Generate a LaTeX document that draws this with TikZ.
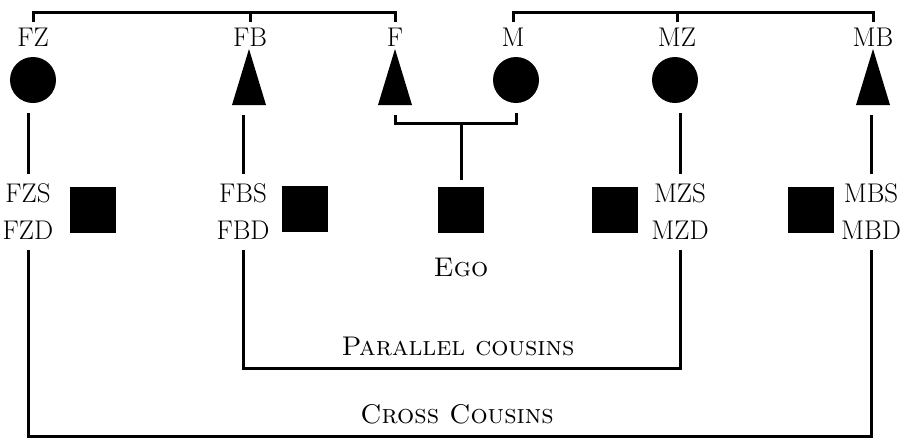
\documentclass[tikz,border=0pt]{standalone}
\usetikzlibrary{positioning,shapes.geometric}

\tikzset{
    kin/.style={line width=3pt},
    female/.style={circle,fill,minimum size=46pt,inner sep=0pt,outer sep=10pt},
    male/.style={isosceles triangle,shape border rotate=90,isosceles triangle stretches,
        fill,minimum width=34pt,minimum height=56pt,inner sep=0pt,outer sep=10pt,anchor=south},
    person/.style={rectangle,fill,minimum size=46pt,inner sep=0pt,outer sep=7pt},
    tag/.style={inner sep=0pt,outer sep=6pt},
    kids/.style={align=center,inner sep=0pt,outer sep=10pt}
}

\begin{document}
\begin{tikzpicture} [x=1pt,y=-1pt,every node/.style={font=\fontsize{27}{37}\selectfont}]
    \useasboundingbox (0,0) rectangle (911,440);

    % parents' generation
    \node[female] (fz) at (33,80) {};
    \node[male] (fb) at (249,115) {};
    \node[male] (f) at (395,115) {};
    \node[female] (m) at (516,80) {};
    \node[female] (mz) at (675,80) {};
    \node[male] (mb) at (873,115) {};

    \node[tag] (fzlab) at (33,37) {FZ};
    \node[tag] (fblab) at (250,37) {FB};
    \node[tag] (flab) at (395,37) {F};
    \node[tag] (mlab) at (513,37) {M};
    \node[tag] (mzlab) at (677,37) {MZ};
    \node[tag] (mblab) at (873,37) {MB};

    % cousins
    \node[kids] (fzkids) at (28,212) {FZS\\FZD};
    \node[person] (fzsq) at (93,210) {};
    \node[kids] (fbkids) at (243,212) {FBS\\FBD};
    \node[person] (fbsq) at (305,209) {};
    \node[person] (ego) at (461,210) {};
    \node[tag,below=12pt of ego] (egolab) {\textsc{Ego}};
    \node[person] (mzsq) at (615,210) {};
    \node[kids] (mzkids) at (680,212) {MZS\\MZD};
    \node[person] (mbsq) at (811,210) {};
    \node[kids] (mbkids) at (871,212) {MBS\\MBD};

    \node[tag] (parlab) at (458,346) {\textsc{Parallel cousins}};
    \node[tag] (crosslab) at (457,414) {\textsc{Cross Cousins}};

    % sibling brackets
    \draw[kin] (fzlab.north) -- (fzlab.north |- 0,12) -- (flab.north |- 0,12) -- (flab.north);
    \draw[kin] (fblab.north) -- (fblab.north |- 0,12);
    \draw[kin] (mlab.north) -- (mlab.north |- 0,12) -- (mblab.north |- 0,12) -- (mblab.north);
    \draw[kin] (mzlab.north) -- (mzlab.north |- 0,12);

    % descent
    \draw[kin] (f.south) -- (f.south |- 0,123) -- (m.south |- 0,123) -- (m.south);
    \draw[kin] (ego.north |- 0,123) -- (ego.north);
    \draw[kin] (fzkids.north |- fz.south) -- (fzkids.north);
    \draw[kin] (fbkids.north |- fb.south) -- (fbkids.north);
    \draw[kin] (mzkids.north |- mz.south) -- (mzkids.north);
    \draw[kin] (mbkids.north |- mb.south) -- (mbkids.north);

    % cousin groups
    \draw[kin] (fbkids.south) -- (fbkids.south |- 0,368) -- (mzkids.south |- 0,368) -- (mzkids.south);
    \draw[kin] (fzkids.south) -- (fzkids.south |- 0,436) -- (mbkids.south |- 0,436) -- (mbkids.south);
\end{tikzpicture}
\end{document}
